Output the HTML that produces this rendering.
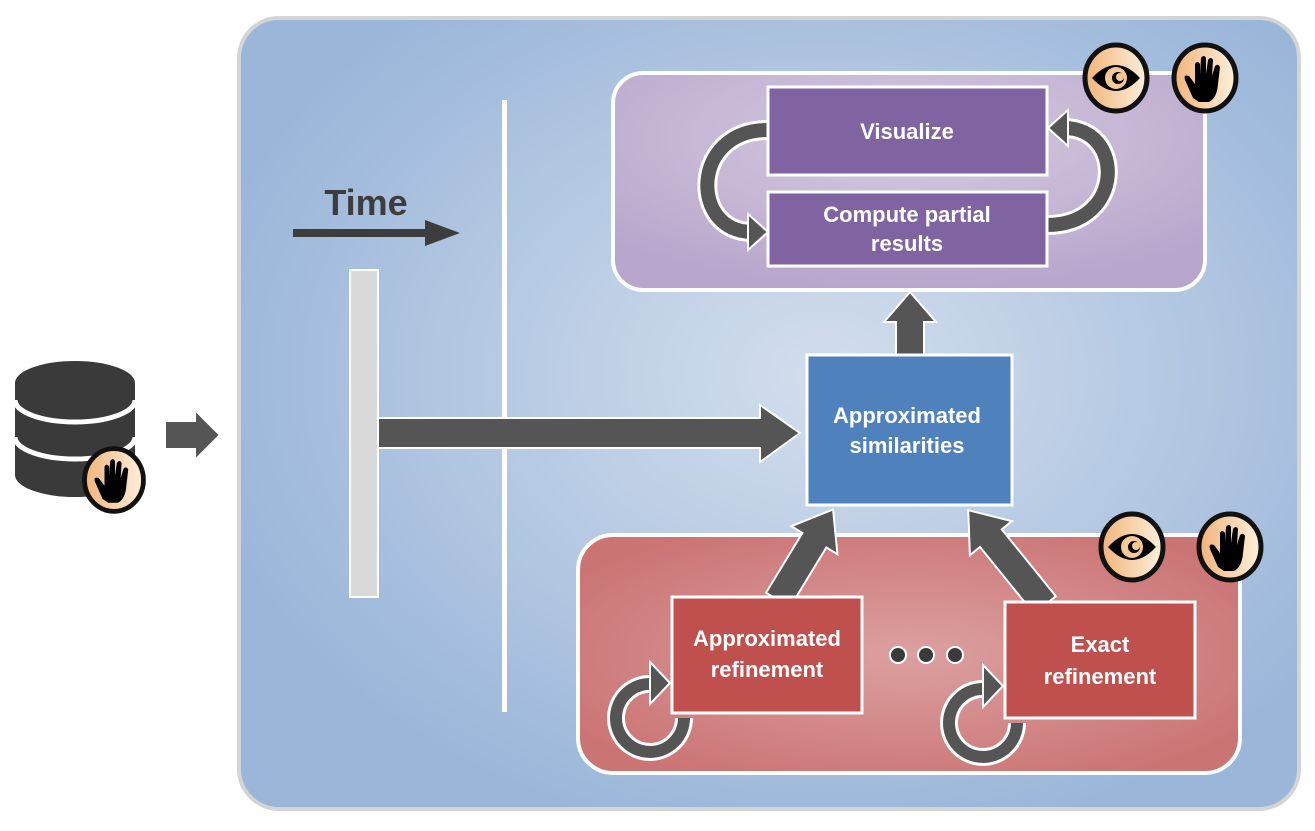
<!DOCTYPE html>
<html><head><meta charset="utf-8"><style>
html,body{margin:0;padding:0;background:#fff}
svg{display:block}
text{font-family:"Liberation Sans",sans-serif;font-weight:bold;fill:#fff;text-anchor:middle}
</style></head><body>
<svg width="1315" height="831" viewBox="0 0 1315 831" xmlns="http://www.w3.org/2000/svg">
<defs>
<radialGradient id="bg" cx="0.55" cy="0.45" r="0.6">
<stop offset="0" stop-color="#d3deed"/><stop offset="1" stop-color="#9ab6d9"/></radialGradient>
<radialGradient id="pu" cx="0.5" cy="0.3" r="0.7">
<stop offset="0" stop-color="#d5cbe0"/><stop offset="1" stop-color="#b8a6cc"/></radialGradient>
<radialGradient id="rd" cx="0.5" cy="0.5" r="0.6">
<stop offset="0" stop-color="#dca0a0"/><stop offset="1" stop-color="#cb7474"/></radialGradient>
<linearGradient id="ic" x1="0" y1="0" x2="1" y2="0">
<stop offset="0" stop-color="#f2b47a"/><stop offset="1" stop-color="#fdf0dc"/></linearGradient>
<g id="eye"><ellipse cx="0" cy="0" rx="31" ry="33" fill="url(#ic)" stroke="#111" stroke-width="5"/>
<path d="M-24,0 Q0,-26 24,0 Q0,26 -24,0Z" fill="#000"/>
<circle r="11" fill="#f5c896"/><circle r="6" cx="2" fill="#000"/><circle r="4" cx="4" cy="-1" fill="#f5c896"/></g>
<g id="hand"><ellipse cx="0" cy="0" rx="31" ry="33" fill="url(#ic)" stroke="#111" stroke-width="5"/>
<path d="M-12,20 L-20,2 Q-22,-4 -16,-2 L-10,6 L-10,-14 Q-8,-18 -5,-14 L-5,-4 L-4,-20 Q-1,-24 1,-20 L1,-4 L3,-18 Q6,-22 8,-18 L7,-2 L10,-12 Q13,-15 15,-11 L13,6 Q12,20 4,24 L-6,24Z" fill="#000"/></g>
</defs>

<!-- main panel -->
<rect x="239" y="18" width="1060" height="791" rx="40" fill="url(#bg)" stroke="#d4d4d4" stroke-width="4"/>

<!-- DB -->
<path d="M15,383 L15,475 A60,22 0 0 0 135,475 L135,383Z" fill="#3a3a3a"/>
<ellipse cx="75" cy="383" rx="60" ry="22" fill="#3a3a3a"/>
<g fill="none" stroke="#fff" stroke-width="5">
<path d="M15,400 A60,22 0 0 0 135,400"/>
<path d="M15,437 A60,22 0 0 0 135,437"/>
</g>
<use href="#hand" transform="translate(114,480) scale(0.95)"/>
<path d="M165,421 L195,421 L195,410 L220,435 L195,460 L195,449 L165,449Z" fill="#555" stroke="#fff" stroke-width="2"/>

<!-- Time -->
<text x="366" y="215" font-size="36" style="fill:#3d3d3d">Time</text>
<path d="M293,229 L425,229 L425,220 L460,233 L425,246 L425,237 L293,237Z" fill="#3d3d3d"/>

<!-- vertical bar and line -->
<rect x="350" y="270" width="28" height="327" fill="#d9d9d9" stroke="#fff" stroke-width="2"/>
<rect x="502" y="100" width="5" height="612" fill="#fff"/>

<!-- big arrow -->
<path d="M378,418 L760,418 L760,405 L800,433 L760,462 L760,448 L378,448Z" fill="#555" stroke="#fff" stroke-width="2"/>

<!-- purple panel -->
<rect x="613" y="73" width="592" height="217" rx="30" fill="url(#pu)" stroke="#fff" stroke-width="4"/>
<use href="#eye" transform="translate(1116,78)"/>
<use href="#hand" transform="translate(1205,78)"/>
<g fill="none">
<path d="M768,130 C690,130 690,232 752,232" stroke="#fff" stroke-width="20"/>
<path d="M768,130 C690,130 690,232 752,232" stroke="#555" stroke-width="14"/>
<path d="M1047,225 C1125,225 1125,128 1064,128" stroke="#fff" stroke-width="20"/>
<path d="M1047,225 C1125,225 1125,128 1064,128" stroke="#555" stroke-width="14"/>
</g>
<path d="M748,214 L768,232 L748,250Z" fill="#555" stroke="#fff" stroke-width="2"/>
<path d="M1068,110 L1048,128 L1068,146Z" fill="#555" stroke="#fff" stroke-width="2"/>
<rect x="768" y="87" width="279" height="88" fill="#8064a2" stroke="#fff" stroke-width="3"/>
<text x="907" y="139" font-size="22">Visualize</text>
<rect x="768" y="192" width="279" height="74" fill="#8064a2" stroke="#fff" stroke-width="3"/>
<text x="907" y="222" font-size="22">Compute partial</text>
<text x="907" y="251" font-size="22">results</text>

<!-- up arrow -->
<path d="M896,355 L896,322 L884,322 L910,292 L936,322 L924,322 L924,355Z" fill="#555" stroke="#fff" stroke-width="2"/>

<!-- red panel -->
<rect x="578" y="535" width="662" height="238" rx="35" fill="url(#rd)" stroke="#fff" stroke-width="4"/>
<use href="#eye" transform="translate(1132,547)"/>
<use href="#hand" transform="translate(1230,547)"/>

<g fill="#555" stroke="#fff" stroke-width="2">
<path transform="translate(778,600) rotate(-58.7)" d="M0,-14 L70,-14 L70,-27 L106,0 L70,27 L70,14 L0,14Z"/>
<path transform="translate(1045,605) rotate(-129)" d="M0,-14 L86,-14 L86,-27 L122,0 L86,27 L86,14 L0,14Z"/>
</g>

<!-- similarities -->
<rect x="807" y="355" width="205" height="150" fill="#4f81bd" stroke="#fff" stroke-width="3"/>
<text x="907" y="423" font-size="22">Approximated</text>
<text x="907" y="453" font-size="22">similarities</text>

<!-- refinement loops -->
<g fill="none">
<path d="M684,718 A34,34 0 1 1 652,684" stroke="#fff" stroke-width="18"/>
<path d="M684,718 A34,34 0 1 1 652,684" stroke="#555" stroke-width="12"/>
<path d="M1017,723 A34,34 0 1 1 985,689" stroke="#fff" stroke-width="18"/>
<path d="M1017,723 A34,34 0 1 1 985,689" stroke="#555" stroke-width="12"/>
</g>
<path d="M650,662 L670,683 L650,704Z" fill="#555" stroke="#fff" stroke-width="2"/>
<path d="M983,665 L1003,686 L983,707Z" fill="#555" stroke="#fff" stroke-width="2"/>

<rect x="672" y="597" width="190" height="116" fill="#c0504d" stroke="#fff" stroke-width="3"/>
<text x="767" y="646" font-size="22">Approximated</text>
<text x="767" y="677" font-size="22">refinement</text>
<rect x="1005" y="602" width="190" height="116" fill="#c0504d" stroke="#fff" stroke-width="3"/>
<text x="1100" y="652" font-size="22">Exact</text>
<text x="1100" y="684" font-size="22">refinement</text>

<g fill="#3a3a3a" stroke="#fff" stroke-width="2">
<circle cx="898" cy="655" r="8"/><circle cx="926" cy="655" r="8"/><circle cx="955" cy="655" r="8"/>
</g>
</svg>
</body></html>
